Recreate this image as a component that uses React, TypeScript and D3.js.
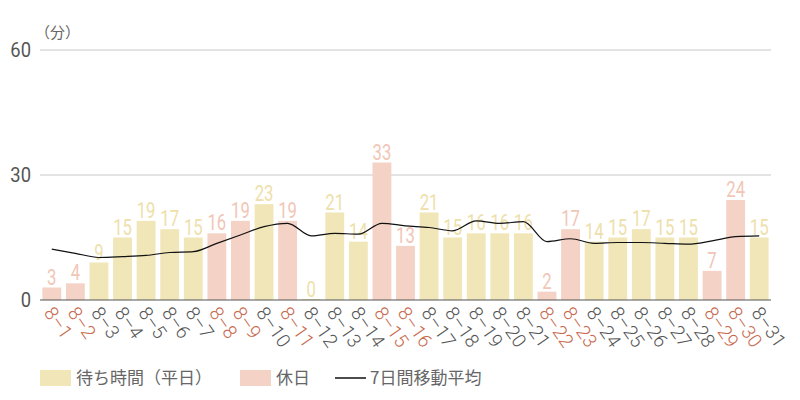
import { useEffect, useRef } from 'react';
import * as d3 from 'd3';

// ─── Data ───────────────────────────────────────────────────

const days = [
  '8-1', '8-2', '8-3', '8-4', '8-5', '8-6', '8-7', '8-8', '8-9', '8-10',
  '8-11', '8-12', '8-13', '8-14', '8-15', '8-16', '8-17', '8-18', '8-19', '8-20',
  '8-21', '8-22', '8-23', '8-24', '8-25', '8-26', '8-27', '8-28', '8-29', '8-30', '8-31',
];
const waitTimes = [
  3, 4, 9, 15, 19, 17, 15, 16, 19, 23,
  19, 0, 21, 14, 33, 13, 21, 15, 16, 16,
  16, 2, 17, 14, 15, 17, 15, 15, 7, 24, 15,
];
const holidays = ['8-1', '8-2', '8-8', '8-9', '8-11', '8-15', '8-16', '8-22', '8-23', '8-29', '8-30'];
const movingAvg = [
  12.2, 11.2, 10.2, 10.4, 10.7, 11.4, 11.6, 13.6, 15.6, 17.6,
  18.4, 15.4, 16.0, 15.8, 18.4, 17.8, 17.4, 16.6, 19.0, 18.4,
  18.8, 14.0, 14.7, 13.6, 13.8, 13.8, 13.6, 13.4, 14.2, 15.2, 15.4,
];
const yTicks = [0, 30, 60];

// ─── Styles ─────────────────────────────────────────────────

const WEEKDAY_FILL = '#f1e6b8';
const HOLIDAY_FILL = '#f5d2c6';
const WEEKDAY_TEXT = '#eee0aa';
const HOLIDAY_TEXT = '#f1c6b6';
const WEEKDAY_AXIS = '#555555';
const HOLIDAY_AXIS = '#c8694d';

export default function App() {
  const svgRef = useRef<SVGSVGElement>(null);

  useEffect(() => {
    if (!svgRef.current) return;
    const svg = d3.select(svgRef.current);
    svg.selectAll('*').remove();

    const left = 40, right = 771, top = 50, bottom = 300;

    const x = d3.scaleBand<string>()
      .domain(days)
      .range([left, right])
      .paddingInner(0.2)
      .paddingOuter(0.1);
    const y = d3.scaleLinear().domain([0, 60]).range([bottom, top]);
    const isHoliday = (d: string) => holidays.includes(d);
    const cx = (d: string) => x(d)! + x.bandwidth() / 2;

    // Grid
    svg.append('g').selectAll('line')
      .data(yTicks.filter((t) => t > 0))
      .join('line')
      .attr('x1', left).attr('x2', right)
      .attr('y1', (d) => y(d)).attr('y2', (d) => y(d))
      .attr('stroke', '#c8c8c8')
      .attr('stroke-width', 1);

    // Y labels
    svg.append('g').selectAll('text')
      .data(yTicks)
      .join('text')
      .attr('transform', (d) => `translate(31,${y(d)}) scale(0.92,1)`)
      .attr('dy', '0.36em')
      .attr('text-anchor', 'end')
      .attr('fill', '#555')
      .attr('font-family', 'Roboto, sans-serif')
      .attr('font-size', 20)
      .text((d) => d);

    svg.append('text')
      .attr('x', 35).attr('y', 38)
      .attr('fill', '#666')
      .attr('font-family', '"Noto Sans CJK JP", sans-serif')
      .attr('font-size', 15)
      .text('（分）');

    const rows = days.map((d, i) => ({ day: d, v: waitTimes[i], ma: movingAvg[i] }));

    // Bars
    svg.append('g').selectAll('rect')
      .data(rows)
      .join('rect')
      .attr('x', (d) => x(d.day)!)
      .attr('y', (d) => Math.min(y(d.v), y(0) - 1))
      .attr('width', x.bandwidth())
      .attr('height', (d) => Math.max(1, y(0) - y(d.v)))
      .attr('fill', (d) => (isHoliday(d.day) ? HOLIDAY_FILL : WEEKDAY_FILL));

    // Value labels (condensed)
    svg.append('g').selectAll('text')
      .data(rows)
      .join('text')
      .attr('transform', (d) => `translate(${cx(d.day)},${y(d.v) - 3}) scale(0.76,1)`)
      .attr('text-anchor', 'middle')
      .attr('fill', (d) => (isHoliday(d.day) ? HOLIDAY_TEXT : WEEKDAY_TEXT))
      .attr('font-family', 'Roboto, sans-serif')
      .attr('font-size', 22)
      .text((d) => d.v);

    // Baseline
    svg.append('line')
      .attr('x1', left).attr('x2', right)
      .attr('y1', y(0)).attr('y2', y(0))
      .attr('stroke', '#555')
      .attr('stroke-width', 1.2);

    // Moving average
    const line = d3.line<{ day: string; ma: number }>()
      .x((d) => cx(d.day))
      .y((d) => y(d.ma))
      .curve(d3.curveMonotoneX);
    svg.append('path')
      .datum(rows)
      .attr('d', line)
      .attr('fill', 'none')
      .attr('stroke', '#111')
      .attr('stroke-width', 1.2);

    // X labels, rotated
    svg.append('g').selectAll('text')
      .data(days)
      .join('text')
      .attr('transform', (d) => `translate(${cx(d) - 3},${bottom + 9}) rotate(55)`)
      .attr('dy', '0.35em')
      .attr('fill', (d) => (isHoliday(d) ? HOLIDAY_AXIS : WEEKDAY_AXIS))
      .attr('font-family', 'Roboto, sans-serif')
      .attr('font-weight', 300)
      .attr('font-size', 19)
      .text((d) => d.replace('-', '–'));

    // Legend
    const legend = svg.append('g')
      .attr('font-family', '"Noto Sans CJK JP", sans-serif')
      .attr('font-size', 17)
      .attr('fill', '#666');
    const ly = 378;
    legend.append('rect').attr('x', 40).attr('y', ly - 8).attr('width', 31).attr('height', 16).attr('fill', WEEKDAY_FILL);
    legend.append('text').attr('x', 76).attr('y', ly).attr('dy', '0.35em').text('待ち時間（平日）');
    legend.append('rect').attr('x', 240).attr('y', ly - 8).attr('width', 31).attr('height', 16).attr('fill', HOLIDAY_FILL);
    legend.append('text').attr('x', 276).attr('y', ly).attr('dy', '0.35em').text('休日');
    legend.append('line').attr('x1', 335).attr('x2', 366).attr('y1', ly).attr('y2', ly).attr('stroke', '#111').attr('stroke-width', 1.5);
    legend.append('text').attr('x', 370).attr('y', ly).attr('dy', '0.35em').text('7日間移動平均');
  }, []);

  return (
    <svg
      ref={svgRef}
      width={800}
      height={400}
      style={{ position: 'absolute', left: 0, top: 0, background: '#fff' }}
    />
  );
}
